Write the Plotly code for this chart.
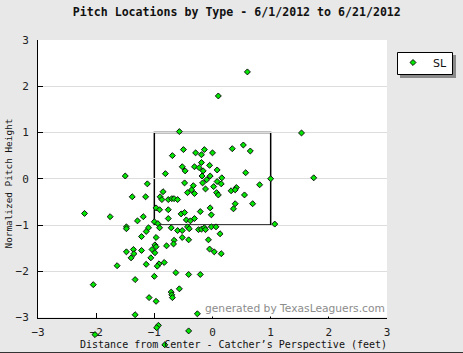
import plotly.graph_objects as go

# Slider (SL) pitch locations: horizontal distance (ft) and normalized height
sl_x = [-0.57, -0.69, -0.50, -0.29, -0.19, -0.14, 0.00, 0.34, 0.53, 0.65,
        -0.52, -0.47, -0.31, -0.23, -0.19, -0.05, -0.16, 0.08, 0.57, -0.81,
        -0.18, -0.04, 0.16, -0.10, -1.12, -0.48, -0.33, -0.17, 0.08, 0.15,
        -0.12, 0.02, -0.36, -0.31, -0.43, 0.07, 0.10, 0.32, 0.41, 0.39,
        0.81, 0.55, -0.85, -1.15, -0.90, -0.87, -0.76, -0.70, -0.66, -0.60,
        0.39, 0.69, 0.36, -0.97, -0.91, -0.76, -0.04, -0.54, -0.48, -0.21,
        -0.02, -1.19, -0.76, -0.45, -0.38, -0.31, -1.00, -0.94, -0.91, -0.71,
        -1.10, -1.14, -1.22, -0.60, -0.52, -0.43, -0.40, -0.24, -0.19, -0.14,
        -0.12, -0.02, 0.06, 0.13, 1.07, 1.00, -0.97, -0.66, -0.52, -0.41,
        -0.07, -0.79, -0.67, -0.99, -0.97, -0.05, -1.22, -1.04, -0.99, -1.06,
        0.03, 0.15, -0.92, -0.95, -0.83, -1.14, -0.63, -0.41, -0.21, -1.00,
        -0.57, -0.71, -0.70, -0.69, -1.09, -0.97, -0.26, -1.50, -1.38, -2.20,
        -1.76, -1.29, -1.48, -1.48, -1.48, -1.36, -1.35, -1.40, -1.64, -2.05,
        -1.33, -1.33, 0.60, 0.10, 1.53, 1.74, -0.93, -0.96, -2.02, -0.41,
        -0.82]
sl_y = [1.02, 0.50, 0.63, 0.56, 0.52, 0.63, 0.56, 0.65, 0.73, 0.60,
        0.26, 0.17, 0.26, 0.24, 0.35, 0.29, 0.17, 0.19, 0.13, 0.11,
        0.06, 0.06, 0.02, -0.02, -0.11, -0.09, -0.15, -0.09, -0.06, -0.11,
        -0.22, -0.17, -0.24, -0.32, -0.30, -0.30, -0.35, -0.26, -0.19, -0.24,
        -0.13, -0.35, -0.28, -0.39, -0.39, -0.45, -0.45, -0.43, -0.43, -0.45,
        -0.54, -0.54, -0.65, -0.63, -0.67, -0.67, -0.63, -0.76, -0.73, -0.71,
        -0.78, -0.82, -0.86, -0.89, -0.91, -0.86, -0.93, -0.97, -1.06, -1.06,
        -1.06, -1.14, -1.25, -1.12, -1.12, -1.04, -1.08, -1.10, -1.09, -1.06,
        -1.10, -1.04, -1.04, -1.19, -0.98, 0.00, -1.27, -1.33, -1.27, -1.32,
        -1.32, -1.45, -1.41, -1.43, -1.47, -1.52, -1.55, -1.53, -1.60, -1.71,
        -1.58, -1.62, -1.84, -1.89, -1.81, -1.85, -2.03, -2.07, -2.07, -2.11,
        -2.38, -2.45, -2.51, -2.57, -2.57, -2.65, -2.92, 0.06, -0.39, -0.75,
        -0.82, -0.91, -1.04, -1.08, -1.58, -1.53, -1.62, -1.71, -1.88, -2.29,
        -2.18, -2.94, 2.31, 1.79, 0.99, 0.02, -3.17, -3.22, -3.37, -3.29,
        -3.59]

series_name = "SL"
tick_vals = [-3, -2, -1, 0, 1, 2, 3]
axis_range = [-3, 3]
title_text = "Pitch Locations by Type - 6/1/2012 to 6/21/2012"
x_title = "Distance from Center - Catcher\u2019s Perspective (feet)"
y_title = "Normalized Pitch Height"
watermark = "generated by TexasLeaguers.com"
zone_x = [-1, 1]
zone_y = [-1, 1]

W, H = 463, 353
L, R, T = 38, 76, 40
AXIS_BOTTOM = 317.5          # pixel row of the x axis line
pw = W - L - R
ph = H - T                   # plot area reaches the bottom edge
px_per_unit = (AXIS_BOTTOM - T) / (axis_range[1] - axis_range[0])
y2_low = axis_range[1] - ph / px_per_unit


def px_x(p):
    return (p - L) / pw


def px_y(p):
    return (H - p) / ph


fig = go.Figure()
# markers live on an (invisible) taller y-axis with the same scale, so that
# pitches below -3 are still drawn under the x axis, as in the original
fig.add_trace(go.Scatter(
    x=sl_x, y=sl_y, mode="markers", name=series_name, yaxis="y2",
    marker=dict(symbol="diamond", size=4.6, color="#00e600",
                line=dict(color="#111111", width=1)),
    cliponaxis=False,
))

mono = "DejaVu Sans Mono"
fig.update_layout(
    width=W, height=H,
    margin=dict(l=L, r=R, t=T, b=0, pad=0, autoexpand=False),
    paper_bgcolor="#e8e8e8",
    plot_bgcolor="rgba(0,0,0,0)",
    showlegend=True,
    title=dict(text=title_text, x=236.8 / W, xanchor="center",
               y=1 - 11.5 / H, yanchor="middle",
               font=dict(family=mono, size=11.6, color="#111111", weight="bold")),
    legend=dict(x=px_x(393), xanchor="left", y=px_y(48), yanchor="top",
                bgcolor="rgba(0,0,0,0)", borderwidth=0,
                font=dict(family="DejaVu Sans", size=11, color="#111111"),
                itemwidth=30),
    xaxis=dict(range=axis_range, tickvals=tick_vals, showgrid=False, zeroline=False,
               anchor="y", showline=True, linecolor="#000000", linewidth=1,
               ticks="inside", ticklen=5, tickcolor="#000000",
               ticklabelstandoff=4,
               tickfont=dict(family=mono, size=11, color="#222222")),
    yaxis=dict(range=axis_range, tickvals=tick_vals, showgrid=True,
               domain=[(H - AXIS_BOTTOM) / ph, 1],
               gridcolor="#dddddd", gridwidth=1, zeroline=False,
               showline=True, linecolor="#000000", linewidth=1,
               ticks="inside", ticklen=5, tickcolor="#000000",
               ticklabelstandoff=6,
               tickfont=dict(family=mono, size=11, color="#222222")),
    yaxis2=dict(range=[y2_low, axis_range[1]], domain=[0, 1], anchor="x",
                visible=False, showgrid=False, zeroline=False),
)

# white plotting area
fig.add_shape(type="rect", xref="x", yref="y", x0=axis_range[0], x1=axis_range[1],
              y0=axis_range[0], y1=axis_range[1], fillcolor="#ffffff",
              line=dict(width=0), layer="below")
# strike zone
fig.add_shape(type="rect", xref="x", yref="y", x0=zone_x[0], x1=zone_x[1],
              y0=zone_y[0], y1=zone_y[1], line=dict(color="#000000", width=1.5),
              layer="below")
# legend box with drop shadow
fig.add_shape(type="rect", xref="paper", yref="paper",
              x0=px_x(400), x1=px_x(456), y0=px_y(78), y1=px_y(55),
              fillcolor="#8a8a8a", line=dict(width=0), layer="above")
fig.add_shape(type="rect", xref="paper", yref="paper",
              x0=px_x(397.5), x1=px_x(452.5), y0=px_y(74.5), y1=px_y(52.5),
              fillcolor="#ffffff", line=dict(color="#000000", width=1), layer="above")
# bottom border line of the image
fig.add_shape(type="line", xref="paper", yref="paper",
              x0=px_x(0), x1=px_x(W), y0=px_y(352.5), y1=px_y(352.5),
              line=dict(color="#333333", width=1))

fig.add_annotation(text=x_title, xref="paper", yref="paper",
                   x=px_x(233.5), y=px_y(344), xanchor="center", yanchor="middle",
                   showarrow=False, font=dict(family=mono, size=10, color="#111111"))
fig.add_annotation(text=y_title, xref="paper", yref="paper",
                   x=px_x(7.5), y=px_y(184), xanchor="center", yanchor="middle",
                   textangle=-90, showarrow=False,
                   font=dict(family=mono, size=9.4, color="#111111"))
fig.add_annotation(text=watermark, xref="paper", yref="paper",
                   x=px_x(387), y=px_y(308.5), xanchor="right", yanchor="middle",
                   showarrow=False, bgcolor="#ffffff",
                   font=dict(family="DejaVu Sans", size=10.7, color="#8c8c8c"))

fig.write_html("out.html")
